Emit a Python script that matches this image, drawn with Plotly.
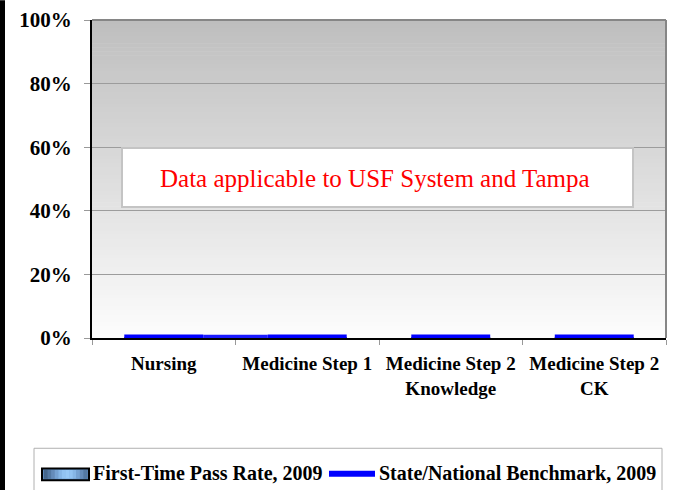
import plotly.graph_objects as go

# ---- data ----
categories = ["Nursing", "Medicine Step 1", "Medicine Step 2 Knowledge", "Medicine Step 2 CK"]
tick_labels = ["Nursing", "Medicine Step 1", "Medicine Step 2<br>Knowledge", "Medicine Step 2<br>CK"]
pass_rate_2009 = [0, 0, 0, 0]
benchmark_2009 = [0, 0, 0, 0]
y_ticks = [0, 20, 40, 60, 80, 100]
note_text = "Data applicable to USF System and Tampa"

W, H = 674, 490
L, R, T, B = 92, 8, 15, 152
PW, PH = W - L - R, H - T - B

def px(xp):
    return (xp - L) / PW

def py(yp):
    return (H - B - yp) / PH

FONT = "Liberation Serif"
idx = list(range(len(categories)))

fig = go.Figure()

fig.add_trace(go.Bar(
    x=idx, y=pass_rate_2009, name="First-Time Pass Rate, 2009",
    marker=dict(color="#7fb2e5", line=dict(color="#000", width=1)),
    width=0.55, showlegend=False,
))

# benchmark segments per category
bx, by = [], []
for i, v in zip(idx, benchmark_2009):
    bx += [i - 0.275, i + 0.275, None]
    by += [v, v, None]
fig.add_trace(go.Scatter(
    x=bx, y=by, mode="lines", name="State/National Benchmark, 2009",
    line=dict(color="#0000ff", width=7), showlegend=False, cliponaxis=False,
))
# connecting line between first two benchmark points
fig.add_trace(go.Scatter(
    x=[idx[0] + 0.275, idx[1] - 0.275], y=[benchmark_2009[0] + 0.2, benchmark_2009[1] + 0.2],
    mode="lines", line=dict(color="#1a1aff", width=5), showlegend=False, cliponaxis=False,
))

shapes = []
# gradient background
N = 80
for k in range(N):
    t0, t1 = k / N, (k + 1) / N
    c = int(round(190 + (253 - 190) * (1 - (t0 + t1) / 2)))
    shapes.append(dict(type="rect", xref="x domain", yref="y domain", x0=0, x1=1,
                       y0=t0, y1=t1 + 0.002, line=dict(width=0),
                       fillcolor=f"rgb({c},{c},{c})", layer="below"))
# top / right frame lines
shapes.append(dict(type="line", xref="x domain", yref="y domain", x0=0, x1=1, y0=1, y1=1,
                   line=dict(color="#868686", width=2)))
shapes.append(dict(type="line", xref="x domain", yref="y domain", x0=1, x1=1, y0=0, y1=1,
                   line=dict(color="#868686", width=2)))
# left black strip
shapes.append(dict(type="rect", xref="paper", yref="paper", x0=px(0), x1=px(5), y0=py(H + 5), y1=py(-5),
                   line=dict(width=0), fillcolor="#000"))
# note box
shapes.append(dict(type="rect", xref="paper", yref="paper", x0=px(122), x1=px(633), y0=py(205), y1=py(145),
                   line=dict(color="#c4c4c4", width=2), fillcolor="#ffffff"))
# legend box
shapes.append(dict(type="rect", xref="paper", yref="paper", x0=px(34), x1=px(662), y0=py(495), y1=py(450),
                   line=dict(color="#b0b0b0", width=1), fillcolor="#ffffff"))
# legend bar marker (gradient)
shapes.append(dict(type="rect", xref="paper", yref="paper", x0=px(42), x1=px(89), y0=py(482.5), y1=py(470.5),
                   line=dict(color="#000", width=2), fillcolor="#5a86b8"))
grad = ["#44668c", "#5479a3", "#658cba", "#76a2d2", "#86b6e6", "#92c3f2", "#98c9f6",
        "#92c3f2", "#86b6e6", "#76a2d2", "#658cba", "#5479a3"]
for j, gc in enumerate(grad):
    x0 = 44 + j * 43 / len(grad)
    shapes.append(dict(type="rect", xref="paper", yref="paper", x0=px(x0), x1=px(x0 + 43 / len(grad) + 0.4),
                       y0=py(481), y1=py(472), line=dict(width=0), fillcolor=gc))
# legend line marker
shapes.append(dict(type="line", xref="paper", yref="paper", x0=px(329), x1=px(375), y0=py(476), y1=py(476),
                   line=dict(color="#0000ff", width=6)))

annotations = [
    dict(text=note_text, xref="paper", yref="paper", x=px(375), y=py(176), showarrow=False,
         font=dict(family=FONT, size=25, color="#ff0000"), xanchor="center", yanchor="middle"),
    dict(text="<b>First-Time Pass Rate, 2009</b>", xref="paper", yref="paper", x=px(91), y=py(475),
         showarrow=False, xanchor="left", yanchor="middle", font=dict(family=FONT, size=20, color="#000")),
    dict(text="<b>State/National Benchmark, 2009</b>", xref="paper", yref="paper", x=px(377), y=py(475),
         showarrow=False, xanchor="left", yanchor="middle", font=dict(family=FONT, size=20, color="#000")),
]

fig.update_layout(
    width=W, height=H,
    margin=dict(l=L, r=R, t=T, b=B),
    paper_bgcolor="#ffffff", plot_bgcolor="#ffffff",
    showlegend=False, shapes=shapes, annotations=annotations,
    bargap=0.45,
)
fig.update_xaxes(
    range=[-0.5, len(categories) - 0.5], tickvals=idx,
    ticktext=[f"<b>{t}</b>" for t in tick_labels], ticks="",
    showgrid=False, zeroline=False, showline=True, linecolor="#000", linewidth=2,
    tickfont=dict(family=FONT, size=19, color="#000"), ticklabelstandoff=7,
    minor=dict(tickvals=[i - 0.5 for i in idx] + [idx[-1] + 0.5], ticks="outside", ticklen=5,
               tickcolor="#999", tickwidth=1, showgrid=False),
)
fig.update_yaxes(
    range=[0, 100], tickvals=y_ticks, ticktext=[f"<b>{v}%</b>" for v in y_ticks],
    ticks="outside", ticklen=6, tickcolor="#999", showgrid=True, gridcolor="#9c9c9c", gridwidth=1,
    zeroline=False, showline=True, linecolor="#000", linewidth=2,
    tickfont=dict(family=FONT, size=21, color="#000"), ticklabelstandoff=8,
)

fig.write_html("out.html", config={"displayModeBar": False},
               post_script="document.body.style.margin='0';document.body.style.overflow='hidden';")
